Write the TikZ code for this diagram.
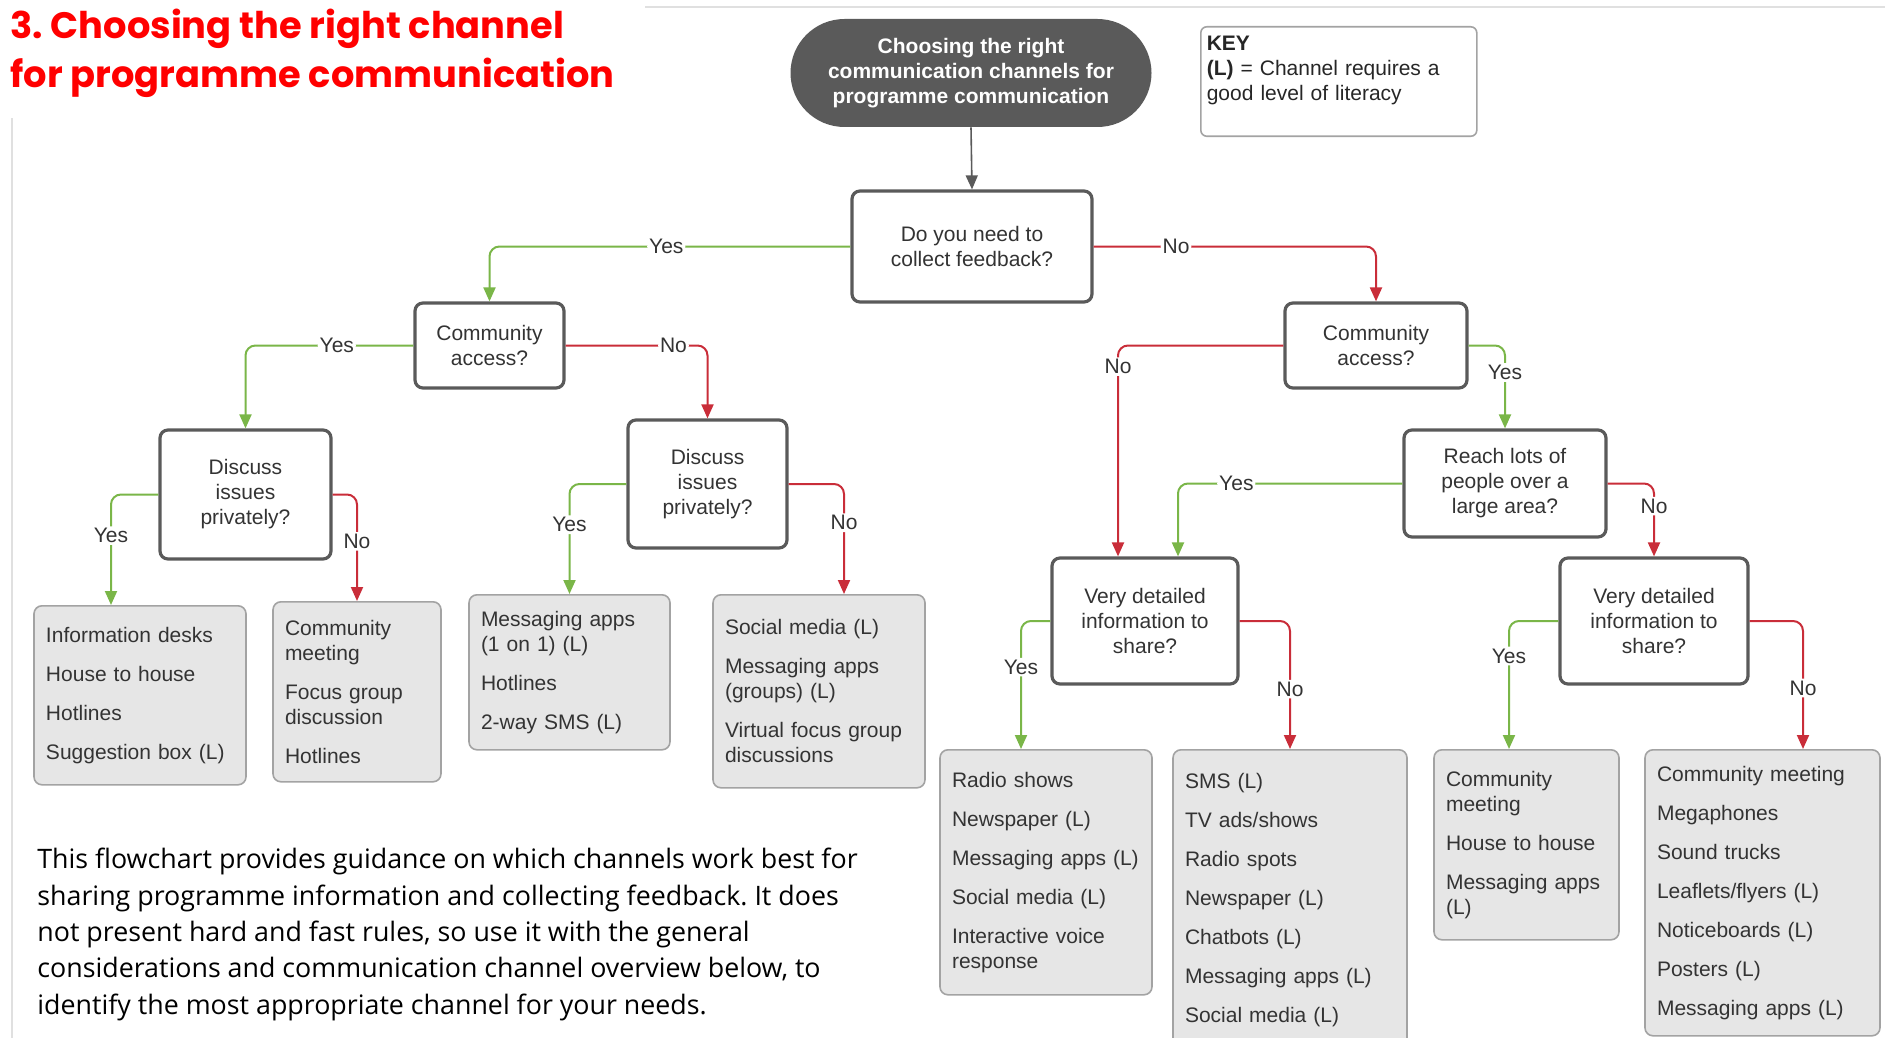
\documentclass[tikz,border=0pt]{standalone}
\usepackage{fontspec}
\setmainfont{Liberation Sans}
\newfontfamily\titlefont{Poppins}
\newfontfamily\notefont{Open Sans}
\usetikzlibrary{positioning}
\usetikzlibrary{arrows.meta}
\usetikzlibrary{calc}

\definecolor{qgray}{HTML}{5A5A5A}
\definecolor{yesgreen}{HTML}{7AB648}
\definecolor{nored}{HTML}{C92D39}
\definecolor{leaffill}{HTML}{E6E6E6}
\definecolor{leafline}{HTML}{A3A3A3}
\definecolor{titlered}{HTML}{FF0000}
\definecolor{inkgray}{HTML}{333333}

\newcommand*{\boxfont}{\fontsize{10.5}{12.5}\selectfont}
\newcommand*{\nxt}{\\[7pt]}
\frenchspacing

\tikzset{
  question/.style={draw=qgray, line width=1.6pt, rounded corners=4pt, fill=white,
    align=center, text=inkgray, font=\boxfont},
  leafbox/.style={draw=leafline, line width=0.8pt, fill=leaffill, rounded corners=4pt,
    anchor=north, align=left, inner xsep=6pt, text=inkgray, font=\boxfont},
  yesline/.style={draw=yesgreen, line width=1pt, rounded corners=5pt,
    -{Stealth[length=7pt,width=6pt,inset=0pt]}},
  noline/.style={yesline, draw=nored},
  answer/.style={fill=white, inner sep=1pt, text=inkgray, font=\boxfont},
  pagerule/.style={draw=black!12, line width=0.6pt},
}

\begin{document}
\begin{tikzpicture}[x=0.5pt, y=-0.5pt]
\useasboundingbox (0,0) rectangle (1885,1038);
\clip (0,0) rectangle (1885,1038);

% page edges
\draw[pagerule] (645,7) -- (1885,7);
\draw[pagerule] (12,118) -- (12,1038);

% Heading
\node[anchor=north west, align=left, inner sep=0pt, text=titlered,
    font=\titlefont\bfseries\fontsize{18.4}{24.5}\selectfont
    ] (title) at (10,9) {3. Choosing the right channel\\for programme communication};

% Start
\node[fill=qgray, rounded corners=27pt,
    minimum width=180.5pt, minimum height=54pt,
    text=white, align=center, font=\boxfont\bfseries
    ] (start) at (971,73) {Choosing the right\\communication channels for\\programme communication};

% Key
\node[draw=leafline, line width=0.8pt, rounded corners=3pt,
    anchor=north west, align=left, text width=132pt,
    inner xsep=3pt, inner ysep=4.75pt, text depth=38pt,
    text=black!85, font=\boxfont
    ] (key) at (1200,26) {\textbf{KEY}\\\textbf{(L)} = Channel requires a\\good level of literacy};

% Questions
\node[question, minimum width=120pt, minimum height=55.5pt] (feedback) at (972,246.5) {Do you need to\\collect feedback?};
\node[question, minimum width=74.5pt, minimum height=42.5pt] (accessL) at (489.5,345.5) {Community\\access?};
\node[question, minimum width=91pt, minimum height=42.5pt] (accessR) at (1376,345.5) {Community\\access?};
\node[question, minimum width=85.5pt, minimum height=64.5pt] (privL) at (245.5,494.5) {Discuss\\issues\\privately?};
\node[question, minimum width=79.5pt, minimum height=64pt] (privR) at (707.5,484) {Discuss\\issues\\privately?};
\node[question, minimum width=101pt, minimum height=53.5pt] (reach) at (1505,483.5) {Reach lots of\\people over a\\large area?};
\node[question, minimum width=93pt, minimum height=63pt] (detailL) at (1145,621) {Very detailed\\information to\\share?};
\node[question, minimum width=94pt, minimum height=63pt] (detailR) at (1654,621) {Very detailed\\information to\\share?};

% Channels
\node[leafbox, text width=94pt, minimum height=89.5pt] (chInfo) at (140,605)
    {Information desks\nxt House to house\nxt Hotlines\nxt Suggestion box (L)};
\node[leafbox, text width=72pt, minimum height=90pt] (chMeet) at (357,601)
    {Community\\meeting\nxt Focus group\\discussion\nxt Hotlines};
\node[leafbox, text width=88.5pt, minimum height=77.5pt] (chMsg) at (569.5,594)
    {Messaging apps\\(1 on 1) (L)\nxt Hotlines\nxt 2-way SMS (L)};
\node[leafbox, text width=94pt, minimum height=96.5pt] (chSocial) at (819,594)
    {Social media (L)\nxt Messaging apps\\(groups) (L)\nxt Virtual focus group\\discussions};
\node[leafbox, text width=94pt, minimum height=122.5pt] (chRadio) at (1046,749)
    {Radio shows\nxt Newspaper (L)\nxt Messaging apps (L)\nxt Social media (L)\nxt Interactive voice\\response};
\node[leafbox, text width=105pt, minimum height=150pt] (chSms) at (1290,749)
    {SMS (L)\nxt TV ads/shows\nxt Radio spots\nxt Newspaper (L)\nxt Chatbots (L)\nxt Messaging apps (L)\nxt Social media (L)};
\node[leafbox, text width=80.5pt, minimum height=95pt] (chComm) at (1526.5,749)
    {Community\\meeting\nxt House to house\nxt Messaging apps\\(L)};
\node[leafbox, text width=105.5pt, minimum height=143pt] (chMega) at (1762.5,749)
    {Community meeting\nxt Megaphones\nxt Sound trucks\nxt Leaflets/flyers (L)\nxt Noticeboards (L)\nxt Posters (L)\nxt Messaging apps (L)};

% Connectors
\draw[draw=qgray, line width=0.8pt, -{Stealth[length=7pt,width=6pt,inset=0pt]}] (start.south) -- (feedback.north);

\draw[yesline] (feedback.west) -| node[answer,pos=0.255]{Yes} (accessL.north);
\draw[noline] (feedback.east) -| node[answer,pos=0.146]{No} (accessR.north);

\draw[yesline] (accessL.west) -| node[answer,pos=0.228]{Yes} (privL.north);
\draw[noline] (accessL.east) -| node[answer,pos=0.38]{No} (privR.north);

\draw[noline] (accessR.west) -| node[answer,pos=0.55]{No} ($(detailL.north)+(-27,0)$);
\draw[yesline] (accessR.east) -| node[answer,pos=0.663]{Yes} (reach.north);

\draw[yesline] (reach.west) -| node[answer,pos=0.37]{Yes} ($(detailL.north)+(33,0)$);
\draw[noline] (reach.east) -| node[answer,pos=0.655]{No} (detailR.north);

\draw[yesline] (privL.west) -| node[answer,pos=0.686]{Yes} ($(chInfo.north)+(-29,0)$);
\draw[noline] (privL.east) -| node[answer,pos=0.72]{No} (chMeet.north);

\draw[yesline] (privR.west) -| node[answer,pos=0.685]{Yes} (chMsg.north);
\draw[noline] (privR.east) -| node[answer,pos=0.676]{No} ($(chSocial.north)+(25,0)$);

\draw[yesline] (detailL.west) -| node[answer,pos=0.68]{Yes} ($(chRadio.north)+(-25,0)$);
\draw[noline] (detailL.east) -| node[answer,pos=0.766]{No} (chSms.north);

\draw[yesline] (detailR.west) -| node[answer,pos=0.637]{Yes} ($(chComm.north)+(-17.5,0)$);
\draw[noline] (detailR.east) -| node[answer,pos=0.762]{No} ($(chMega.north)+(40.5,0)$);

% Note
\node[anchor=north west, align=left, inner sep=0pt,
    font=\notefont\fontsize{13.4}{18.15}\selectfont
    ] (note) at (37,848) {This flowchart provides guidance on which channels work best for\\
    sharing programme information and collecting feedback. It does\\
    not present hard and fast rules, so use it with the general\\
    considerations and communication channel overview below, to\\
    identify the most appropriate channel for your needs.};
\end{tikzpicture}
\end{document}
